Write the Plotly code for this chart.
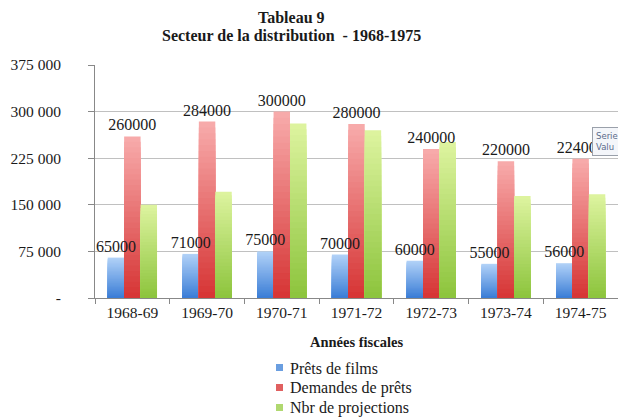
import numpy as np
import plotly.graph_objects as go

categories = ["1968-69", "1969-70", "1970-71", "1971-72", "1972-73", "1973-74", "1974-75"]
prets_films = [65000, 71000, 75000, 70000, 60000, 55000, 56000]
demandes_prets = [260000, 284000, 300000, 280000, 240000, 220000, 224000]
nbr_projections = [150000, 171000, 281000, 270000, 251000, 164000, 167000]
series_names = ["Prêts de films", "Demandes de prêts", "Nbr de projections"]
y_tickvals = [0, 75000, 150000, 225000, 300000, 375000]
y_ticktext = ["-", "75 000", "150 000", "225 000", "300 000", "375 000"]

SERIF = "Liberation Serif"

# (values, top colour, bottom colour, legend colour, show labels)
styles = [
    (prets_films, (178, 210, 248), (58, 125, 214), "#6a9ee0", True),
    (demandes_prets, (248, 172, 172), (214, 52, 52), "#e06060", True),
    (nbr_projections, (222, 244, 160), (140, 196, 60), "#b0d870", False),
]


def mix(c1, c2, t):
    return "rgb({},{},{})".format(*[int(round(a + (b - a) * t)) for a, b in zip(c1, c2)])


fig = go.Figure()
N = 30
for name, (vals, top, bot, leg, lab) in zip(series_names, styles):
    v = np.array(vals, dtype=float)
    # gradient: overlay progressively shorter bars, each darker, all from zero
    for k in range(N):
        frac = (N - k) / N
        fig.add_trace(go.Bar(
            x=categories, y=v * frac,
            offsetgroup=name, name=name, showlegend=False,
            marker=dict(color=mix(bot, top, (N - k - 0.5) / N), line=dict(width=0)),
            textposition="none", hoverinfo="skip",
        ))

# value labels drawn last so they sit on top of neighbouring bars
for name, (vals, top, bot, leg, lab) in zip(series_names, styles):
    if not lab:
        continue
    fig.add_trace(go.Bar(
        x=categories, y=vals, offsetgroup=name, showlegend=False,
        marker=dict(color="rgba(0,0,0,0)", line=dict(width=8, color="rgba(0,0,0,0)")),
        text=[str(a) for a in vals], texttemplate="%{text}",
        textposition="outside", constraintext="none", cliponaxis=False,
        textfont=dict(family=SERIF, size=16, color="#1a1a1a"),
        hoverinfo="skip",
    ))

# legend (drawn as squares + text to match the compact original spacing)
legend_shapes = []
legend_notes = []
LEG_X0, LEG_Y0, LEG_DY = 276, 368, 20
for j, (name, st) in enumerate(zip(series_names, styles)):
    yc = LEG_Y0 + j * LEG_DY
    legend_shapes.append(dict(
        type="rect", xref="paper", yref="paper",
        x0=(LEG_X0 - 95) / 523, x1=(LEG_X0 + 7 - 95) / 523,
        y0=-(yc + 3 - 298) / 233, y1=-(yc - 4 - 298) / 233,
        fillcolor=st[3], line=dict(width=0),
    ))
    legend_notes.append(dict(
        text=name, xref="paper", yref="paper",
        x=(LEG_X0 + 12 - 95) / 523, y=-(yc - 298) / 233,
        xanchor="left", yanchor="middle", showarrow=False,
        font=dict(family=SERIF, size=16, color="#1a1a1a"),
    ))

fig.update_layout(
    width=618, height=419,
    margin=dict(l=95, r=0, t=65, b=121, autoexpand=False),
    paper_bgcolor="white", plot_bgcolor="white",
    barmode="group", bargap=0.34, bargroupgap=0,
    showlegend=False,
    xaxis=dict(
        type="category", categoryorder="array", categoryarray=categories,
        tickson="boundaries", ticks="outside", ticklen=5, tickcolor="#888",
        showline=True, linecolor="#888", linewidth=1,
        tickfont=dict(family=SERIF, size=15.5, color="#1a1a1a"),
        showgrid=False,
    ),
    yaxis=dict(
        range=[0, 375000], tickvals=y_tickvals, ticktext=y_ticktext,
        showgrid=True, gridcolor="#c0c0c0", gridwidth=1,
        showline=True, linecolor="#888", linewidth=1,
        ticks="outside", ticklen=6, tickcolor="#888",
        ticklabelstandoff=24,
        tickfont=dict(family=SERIF, size=15.5, color="#1a1a1a"),
        zeroline=False,
    ),
    shapes=legend_shapes,
    annotations=[
        dict(text="<b>Tableau 9</b>", xref="paper", yref="paper",
             x=(291 - 95) / 523, y=1 + (65 - 18) / 233,
             xanchor="center", yanchor="middle", showarrow=False,
             font=dict(family=SERIF, size=16, color="#1a1a1a")),
        dict(text="<b>Secteur de la distribution  - 1968-1975</b>", xref="paper", yref="paper",
             x=(291 - 95) / 523, y=1 + (65 - 35) / 233,
             xanchor="center", yanchor="middle", showarrow=False,
             font=dict(family=SERIF, size=16, color="#1a1a1a")),
        dict(text="<b>Années fiscales</b>", xref="paper", yref="paper",
             x=0.5, y=-(342 - 298) / 233,
             xanchor="center", yanchor="middle", showarrow=False,
             font=dict(family=SERIF, size=14.5, color="#1a1a1a")),
        dict(text="Serie<br>Valu", xref="paper", yref="paper",
             x=(592 - 95) / 523, y=(298 - 127) / 233,
             xanchor="left", yanchor="top", showarrow=False, align="left",
             bgcolor="#f4f6fa", bordercolor="#9aa0aa", borderwidth=1, borderpad=3,
             font=dict(family="DejaVu Sans", size=8.5, color="#5a6a8a")),
    ] + legend_notes,
)

fig.write_html("out.html", config={"displayModeBar": False},
               post_script="document.body.style.margin='0';")
